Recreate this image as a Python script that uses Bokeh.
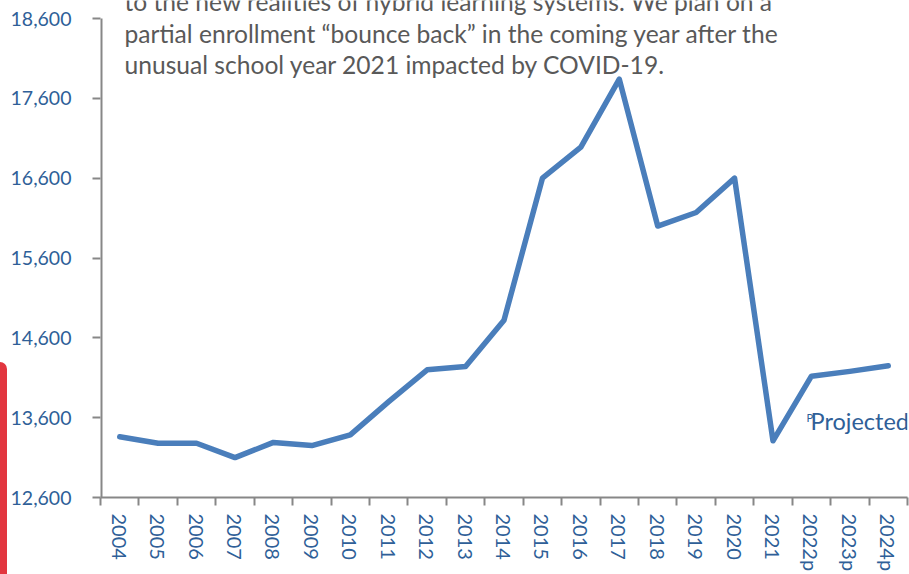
from bokeh.plotting import figure
from bokeh.layouts import row
from bokeh.models import Range1d, FixedTicker, Label, Div, NumeralTickFormatter, ColumnDataSource
from bokeh.embed import file_html
from bokeh.resources import INLINE

years = ["2004", "2005", "2006", "2007", "2008", "2009", "2010", "2011", "2012",
         "2013", "2014", "2015", "2016", "2017", "2018", "2019", "2020", "2021",
         "2022p", "2023p", "2024p"]
enrollment = [13360, 13280, 13280, 13100, 13290, 13250, 13385, 13800, 14200,
              14240, 14820, 16600, 16990, 17840, 16000, 16170, 16600, 13310,
              14120, 14180, 14250]
y_ticks = [12600, 13600, 14600, 15600, 16600, 17600, 18600]
note_lines = [
    "to the new realities of hybrid learning systems. We plan on a",
    "partial enrollment \u201cbounce back\u201d in the coming year after the",
    "unusual school year 2021 impacted by COVID-19.",
]
projected_mark = "P"
projected_text = "Projected"

FONT = "Lato"
BLUE_TXT = "#2f5f98"
LINE_BLUE = "#4a7ebb"
AXIS_GREY = "#878787"

# layout (pixels)
W, H = 909, 574
BAR_W = 7
BAR_TOP = 362
FRAME_LEFT = 98
FRAME_BOTTOM = 497          # canvas y of the x axis
TOP_TICK_PX = 18            # canvas y of the top tick
px_per_unit = (FRAME_BOTTOM - TOP_TICK_PX) / (y_ticks[-1] - y_ticks[0])
y_end = y_ticks[-1] + TOP_TICK_PX / px_per_unit

xs = [i + 0.5 for i in range(len(years))]
src = ColumnDataSource(dict(x=xs, y=enrollment, year=years))

p = figure(width=W - BAR_W, height=H, x_range=Range1d(0, len(years)),
           y_range=Range1d(y_ticks[0], y_end),
           output_backend="svg", toolbar_location=None,
           min_border_left=FRAME_LEFT - BAR_W, min_border_right=2, min_border_top=0,
           min_border_bottom=H - FRAME_BOTTOM)
p.outline_line_color = None
p.xgrid.grid_line_color = None
p.ygrid.grid_line_color = None
p.background_fill_color = "white"
p.border_fill_color = "white"

# y axis line only over the tick span
p.segment(x0=[0], y0=[y_ticks[0]], x1=[0], y1=[y_ticks[-1]],
          line_color=AXIS_GREY, line_width=4)

p.line("x", "y", source=src, line_color=LINE_BLUE, line_width=5.5,
       line_join="round", line_cap="round")

# y axis
ya = p.yaxis[0]
ya.ticker = FixedTicker(ticks=y_ticks)
ya.formatter = NumeralTickFormatter(format="0,0")
ya.axis_line_color = None
ya.major_tick_line_color = AXIS_GREY
ya.major_tick_line_width = 2
ya.major_tick_out = 8
ya.major_tick_in = 0
ya.minor_tick_line_color = None
ya.major_label_standoff = 21
ya.major_label_text_font = FONT
ya.major_label_text_font_size = "19.5px"
ya.major_label_text_color = BLUE_TXT

# x axis: labels at centers, tick marks at boundaries
xa = p.xaxis[0]
xa.ticker = FixedTicker(ticks=xs, minor_ticks=list(range(len(years) + 1)))
xa.major_label_overrides = {x: y for x, y in zip(xs, years)}
xa.major_label_orientation = "vertical"
xa.axis_line_color = AXIS_GREY
xa.axis_line_width = 2
xa.major_tick_line_color = None
xa.minor_tick_line_color = AXIS_GREY
xa.minor_tick_line_width = 2
xa.minor_tick_out = 8
xa.minor_tick_in = 0
xa.major_label_standoff = 8
xa.major_label_text_font = FONT
xa.major_label_text_font_size = "20px"
xa.major_label_text_color = BLUE_TXT

# note text at top (positions in canvas px)
for line, base in zip(note_lines, [1, 33, 64]):
    p.add_layout(Label(x=122 - FRAME_LEFT, y=FRAME_BOTTOM - base,
                       x_units="screen", y_units="screen",
                       text=line, text_font=FONT, text_font_size="24.6px",
                       text_color="#595959", text_baseline="alphabetic"))

# projected annotation
p.add_layout(Label(x=804 - FRAME_LEFT, y=FRAME_BOTTOM - 417, x_units="screen", y_units="screen",
                   text=projected_mark, text_font=FONT, text_font_size="11px",
                   text_color=BLUE_TXT, text_baseline="alphabetic"))
p.add_layout(Label(x=808 - FRAME_LEFT, y=FRAME_BOTTOM - 420, x_units="screen", y_units="screen",
                   text=projected_text, text_font=FONT, text_font_size="23.5px",
                   text_color=BLUE_TXT, text_baseline="alphabetic"))

# red side bar at the left edge of the page
bar = Div(text="", width=BAR_W, height=H - BAR_TOP, margin=(BAR_TOP, 0, 0, 0),
          styles={"background-color": "#e2363f", "border-top-right-radius": "7px"})

layout = row(bar, p, spacing=0)
open("out.html", "w").write(file_html(layout, INLINE))
